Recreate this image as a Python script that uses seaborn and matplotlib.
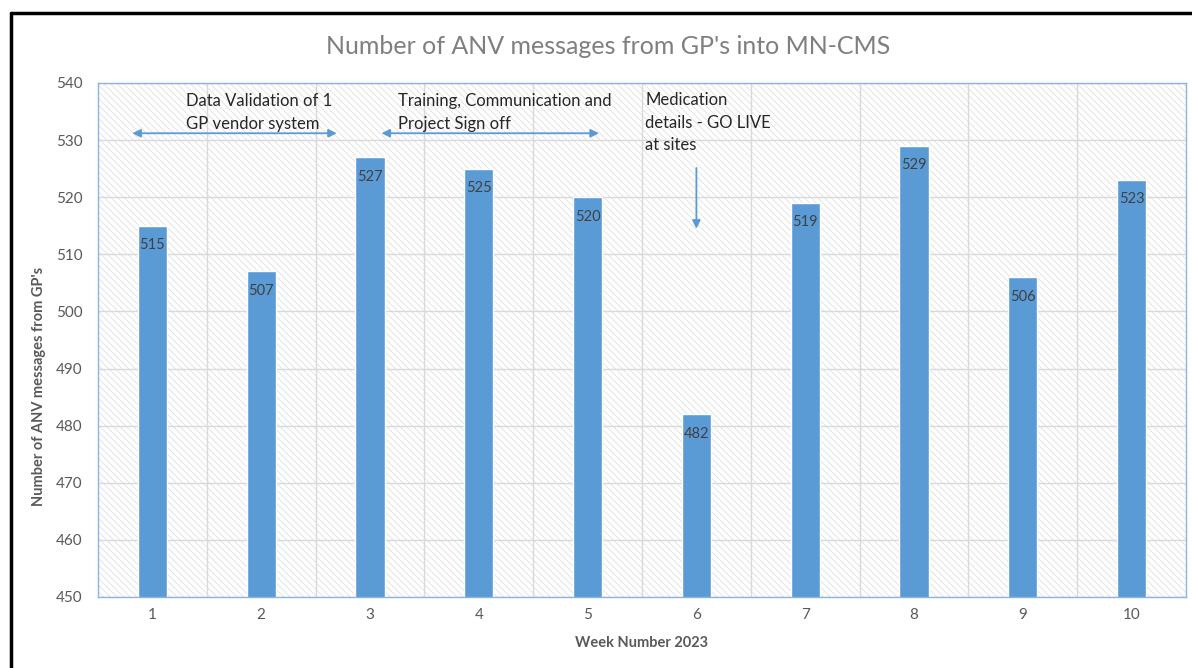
import matplotlib
matplotlib.use("Agg")
import matplotlib.pyplot as plt
import seaborn as sns
import pandas as pd
from matplotlib.patches import Rectangle
from matplotlib.lines import Line2D

weeks = ["1", "2", "3", "4", "5", "6", "7", "8", "9", "10"]
messages = [515, 507, 527, 525, 520, 482, 519, 529, 506, 523]
y_ticks = [450, 460, 470, 480, 490, 500, 510, 520, 530, 540]

title = "Number of ANV messages from GP's into MN-CMS"
x_label = "Week Number 2023"
y_label = "Number of ANV messages from GP's"
note1 = "Data Validation of 1\nGP vendor system"
note2 = "Training, Communication and\nProject Sign off"
note3 = "Medication\ndetails - GO LIVE\nat sites"

BLUE = "#5B9BD5"
sns.set_theme(style="white")
plt.rcParams["font.family"] = ["Lato", "DejaVu Sans"]
plt.rcParams["hatch.linewidth"] = 0.5

df = pd.DataFrame({"week": weeks, "messages": messages})

fig = plt.figure(figsize=(11.92, 6.68), dpi=100)
ax = fig.add_axes([98 / 1192, 1 - 597 / 668, (1186 - 98) / 1192, (597 - 83) / 668])

sns.barplot(data=df, x="week", y="messages", color=BLUE, saturation=1,
            width=0.27, ax=ax, zorder=2)

# hatched background
bg = Rectangle((0, 0), 1, 1, transform=ax.transAxes, facecolor="white",
               edgecolor="#dadada", hatch="\\\\\\\\\\", linewidth=0, zorder=0.1)
ax.add_patch(bg)

ax.set_ylim(450, 540)
ax.set_yticks(y_ticks)
ax.set_xlim(-0.5, len(weeks) - 0.5)
ax.set_xticks(range(len(weeks)))
ax.set_xticklabels(weeks)
ax.set_xticks([i + 0.5 for i in range(len(weeks) - 1)], minor=True)
ax.grid(True, axis="y", color="#d9d9d9", linewidth=1, zorder=0.5)
ax.grid(True, axis="x", which="minor", color="#d9d9d9", linewidth=1, zorder=0.5)
ax.set_axisbelow(True)
ax.tick_params(axis="both", which="both", length=0, labelsize=11, colors="#595959")
ax.tick_params(axis="y", pad=11)
ax.tick_params(axis="x", pad=8)
for s in ax.spines.values():
    s.set_color("#8db3e2")
    s.set_linewidth(1)
    s.set_visible(True)

ax.set_xlabel(x_label, fontsize=10.5, fontweight="bold", color="#595959", labelpad=10)
ax.set_ylabel(y_label, fontsize=10.5, fontweight="bold", color="#595959")
ax.yaxis.set_label_coords(-0.048, 0.41)

for c in ax.containers:
    ax.bar_label(c, labels=[str(v) for v in messages], padding=-19,
                 fontsize=10.5, color="#404040")

# annotations
arrow_kw = dict(arrowstyle="<|-|>", color=BLUE, lw=1.3, mutation_scale=12)
ax.annotate("", xy=(-0.21, 531.2), xytext=(1.72, 531.2), arrowprops=arrow_kw)
ax.annotate("", xy=(2.08, 531.2), xytext=(4.13, 531.2), arrowprops=arrow_kw)
ax.annotate("", xy=(5.0, 514.0), xytext=(5.0, 525.6),
            arrowprops=dict(arrowstyle="-|>", color=BLUE, lw=1.3, mutation_scale=12))

txt_kw = dict(fontsize=12, color="#262626", va="top", ha="left", linespacing=1.5)
ax.text(0.31, 538.2, note1, **txt_kw)
ax.text(2.26, 538.2, note2, **txt_kw)
ax.text(4.53, 538.4, note3, **txt_kw)

fig.text(608 / 1192, 1 - 47 / 668, title, fontsize=18, color="#7f7f7f",
         ha="center", va="center")

# outer frame
fig.add_artist(Line2D([11 / 1192, 1.0], [1 - 13 / 668, 1 - 13 / 668],
                      transform=fig.transFigure, color="black", lw=2.5))
fig.add_artist(Line2D([11 / 1192, 11 / 1192], [1 - 13 / 668, 0.0],
                      transform=fig.transFigure, color="black", lw=2.5))

fig.savefig("out.png", dpi=100, facecolor="white")
